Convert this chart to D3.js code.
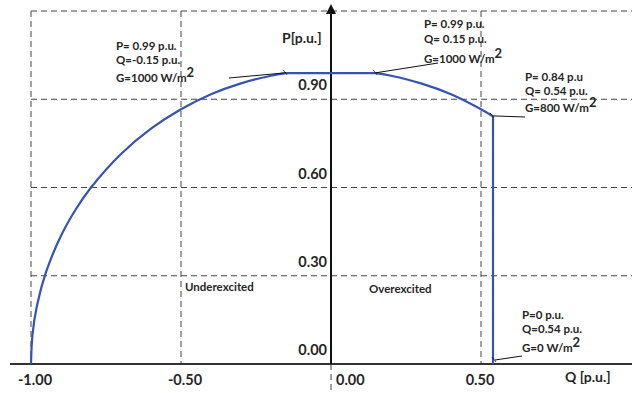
<!DOCTYPE html>
<html>
<head>
<meta charset="utf-8">
<script src="https://cdn.jsdelivr.net/npm/d3@7"></script>
<style>
  html, body { margin: 0; padding: 0; background: #fff; }
  svg { display: block; }
  text { font-family: Lato, "Liberation Sans", Arial, sans-serif; font-weight: bold; fill: #262626; }
</style>
</head>
<body>
<svg id="chart" width="632" height="393"></svg>
<script>
// ---- data ----
// capability curve: left arc, flat top, right arc, vertical drop
const qValues = [-1.000, -0.995, -0.980, -0.950, -0.900, -0.850, -0.800, -0.700, -0.600, -0.500, -0.400, -0.300, -0.200, -0.150, 0.150, 0.200, 0.300, 0.400, 0.500, 0.540, 0.540];
const pValues = [0.000, 0.100, 0.199, 0.312, 0.436, 0.527, 0.600, 0.714, 0.800, 0.866, 0.917, 0.954, 0.980, 0.989, 0.989, 0.980, 0.954, 0.917, 0.866, 0.842, 0.000];
const segmentEnds = [13, 14, 19, 20]; // last index of each drawn piece

const xTicks = [-1.00, -0.50, 0.00, 0.50];
const xTickLabels = ["-1.00", "-0.50", "0.00", "0.50"];
const yTicks = [0.00, 0.30, 0.60, 0.90];
const yTickLabels = ["0.00", "0.30", "0.60", "0.90"];
const yGrid = [0.30, 0.60, 0.90, 1.20];
const xGrid = [-1.00, -0.50, 0.50];

const annoQ = [-0.15, 0.15, 0.54, 0.54];
const annoP = [0.99, 0.99, 0.84, 0.00];
const annoLine1 = ["P= 0.99 p.u.", "P= 0.99 p.u.", "P= 0.84 p.u", "P=0 p.u."];
const annoLine2 = ["Q=-0.15 p.u.", "Q= 0.15 p.u.", "Q= 0.54 p.u.", "Q=0.54 p.u."];
const annoLine3 = ["G=1000 W/m", "G=1000 W/m", "G=800 W/m", "G=0 W/m"];

const regionLabels = ["Underexcited", "Overexcited"];
const xAxisTitle = "Q [p.u.]";
const yAxisTitle = "P[p.u.]";

// ---- layout ----
const svg = d3.select("#chart");
const x = d3.scaleLinear().domain([-1, 1]).range([31, 631]);
const y = d3.scaleLinear().domain([0, 1.2]).range([364, 11]);
const gridColor = "#444";
const dash = "6,4";

// grid
svg.append("g").selectAll("line").data(yGrid).join("line")
  .attr("x1", x(-1)).attr("x2", 632)
  .attr("y1", d => y(d)).attr("y2", d => y(d))
  .attr("stroke", gridColor).attr("stroke-width", 1).attr("stroke-dasharray", dash);
svg.append("g").selectAll("line").data(xGrid).join("line")
  .attr("x1", d => x(d)).attr("x2", d => x(d))
  .attr("y1", y(1.2)).attr("y2", y(0))
  .attr("stroke", gridColor).attr("stroke-width", 1).attr("stroke-dasharray", dash);
svg.append("line")
  .attr("x1", x(0)).attr("x2", x(0)).attr("y1", y(0)).attr("y2", 393)
  .attr("stroke", gridColor).attr("stroke-width", 1).attr("stroke-dasharray", dash);

// x axis
svg.append("line")
  .attr("x1", 10).attr("x2", 632).attr("y1", y(0)).attr("y2", y(0))
  .attr("stroke", "#333").attr("stroke-width", 2);
// y axis with arrow
svg.append("line")
  .attr("x1", x(0)).attr("x2", x(0)).attr("y1", y(0)).attr("y2", 12)
  .attr("stroke", "#111").attr("stroke-width", 2);
svg.append("path")
  .attr("d", `M${x(0)},4 L${x(0) - 5},14 L${x(0) + 5},14 Z`)
  .attr("fill", "#111");

// tick labels
svg.append("g").selectAll("text").data(yTicks).join("text")
  .attr("x", x(0) - 4).attr("y", d => y(d) - 9)
  .attr("text-anchor", "end").attr("font-size", 14.5)
  .text((d, i) => yTickLabels[i]);
svg.append("g").selectAll("text").data(xTicks).join("text")
  .attr("x", d => x(d) + (d < 0 ? 4 : d === 0 ? 5 : -1))
  .attr("y", 385)
  .attr("text-anchor", d => d === 0 ? "start" : "middle")
  .attr("font-size", 14.5)
  .text((d, i) => xTickLabels[i]);

// axis titles
svg.append("text").attr("x", 282).attr("y", 43).attr("font-size", 14).text(yAxisTitle);
svg.append("text").attr("x", 565).attr("y", 382).attr("font-size", 14).text(xAxisTitle);

// region labels
svg.append("text").attr("x", 185).attr("y", 291).attr("font-size", 11.5).text(regionLabels[0]);
svg.append("text").attr("x", 369).attr("y", 293).attr("font-size", 11.5).text(regionLabels[1]);

// capability curve
const pts = qValues.map((q, i) => [q, pValues[i]]);
const lineCurve = d3.line().x(d => x(d[0])).y(d => y(d[1])).curve(d3.curveCatmullRom.alpha(0.5));
const lineLin = d3.line().x(d => x(d[0])).y(d => y(d[1]));
const blue = "#3554b0";
let start = 0;
segmentEnds.forEach(end => {
  const seg = pts.slice(start, end + 1);
  const gen = seg.length > 2 ? lineCurve : lineLin;
  svg.append("path").attr("d", gen(seg))
    .attr("fill", "none").attr("stroke", blue).attr("stroke-width", 2.2)
    .attr("stroke-linejoin", "round");
  start = end;
});

// annotations: text block origin and leader start
const annoLayout = [
  { tx: 116, ty: 50, gaps: [14, 18], lx: 229, ly: 78, dx: 0, dy: 0 },
  { tx: 424, ty: 28, gaps: [15, 20], lx: 438, ly: 63, dx: 0, dy: 0 },
  { tx: 525, ty: 81, gaps: [14, 17], lx: 525, ly: 117, dx: 0, dy: -1 },
  { tx: 522, ty: 319, gaps: [14, 19], lx: 522, ly: 356, dx: 2, dy: -4 }
];
const ag = svg.append("g");
annoQ.forEach((q, i) => {
  const L = annoLayout[i];
  const px = x(q) + L.dx, py = y(annoP[i]) + L.dy;
  ag.append("line").attr("x1", L.lx).attr("y1", L.ly).attr("x2", px).attr("y2", py)
    .attr("stroke", "#111").attr("stroke-width", 1);
  ag.append("line").attr("x1", px - 3).attr("y1", py - 3).attr("x2", px + 1).attr("y2", py + 2)
    .attr("stroke", "#111").attr("stroke-width", 0.8);
  ag.append("text").attr("x", L.tx).attr("y", L.ty).attr("font-size", 11.5).text(annoLine1[i]);
  ag.append("text").attr("x", L.tx).attr("y", L.ty + L.gaps[0]).attr("font-size", 11.5).text(annoLine2[i]);
  const t3 = ag.append("text").attr("x", L.tx).attr("y", L.ty + L.gaps[0] + L.gaps[1]).attr("font-size", 11.5);
  t3.append("tspan").text(annoLine3[i]);
  t3.append("tspan").attr("dy", -5).attr("font-size", 13).text("2");
});
</script>
</body>
</html>
